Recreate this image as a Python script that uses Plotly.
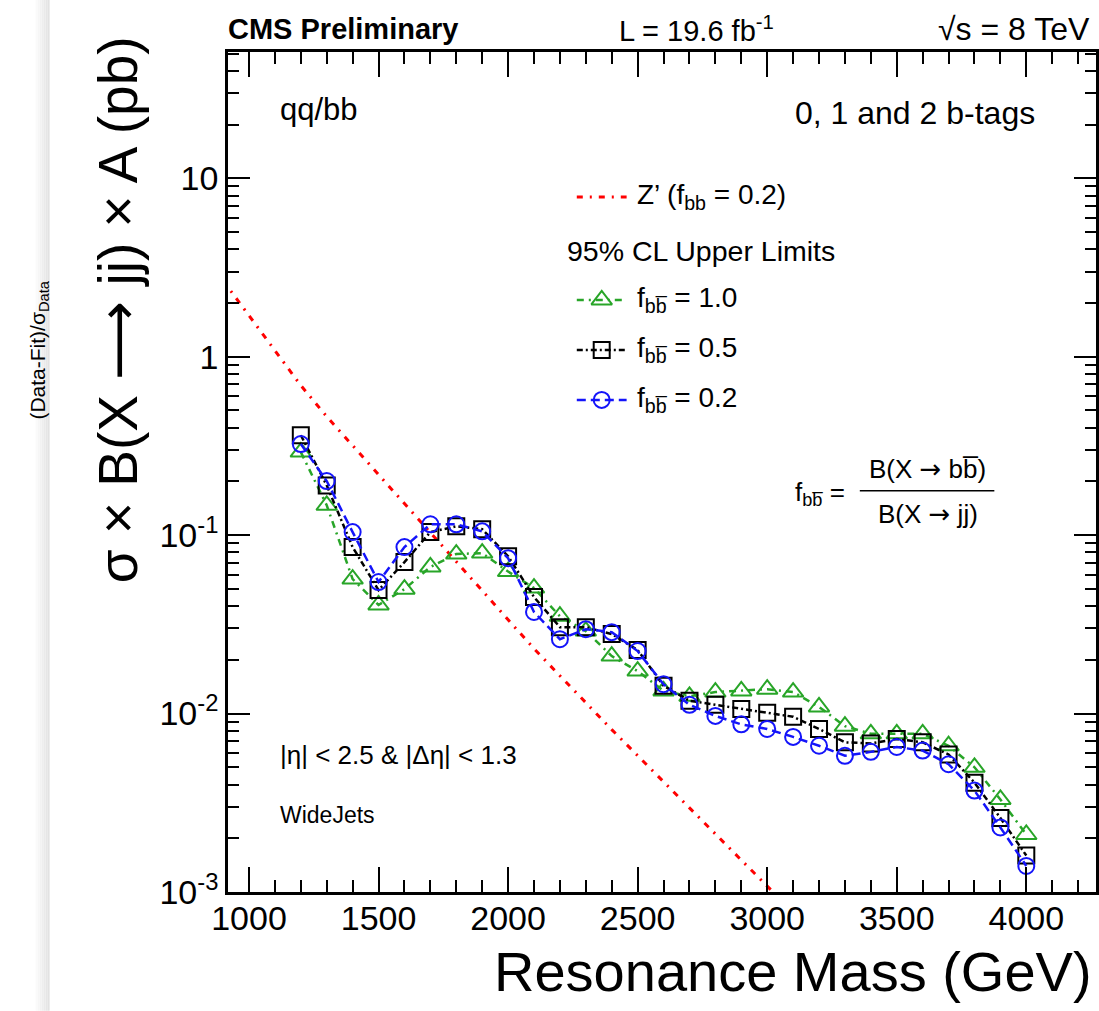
import plotly.graph_objects as go

# ---------------- data ----------------
mass = [1200, 1300, 1400, 1500, 1600, 1700, 1800, 1900, 2000, 2100, 2200, 2300, 2400, 2500,
        2600, 2700, 2800, 2900, 3000, 3100, 3200, 3300, 3400, 3500, 3600, 3700, 3800, 3900, 4000]

lim_fbb_10 = [0.292, 0.147, 0.0567, 0.0406, 0.0498, 0.0663, 0.0783, 0.0793, 0.0625, 0.0505,
              0.0351, 0.0290, 0.0210, 0.0173, 0.0134, 0.0125, 0.0132, 0.0134, 0.0137, 0.0132,
              0.0109, 0.0085, 0.0077, 0.0077, 0.0077, 0.0066, 0.0050, 0.0033, 0.0021]

lim_fbb_05 = [0.363, 0.190, 0.0857, 0.0492, 0.0706, 0.104, 0.112, 0.108, 0.0762, 0.0450,
              0.0305, 0.0305, 0.0279, 0.0227, 0.0143, 0.0118, 0.0112, 0.0106, 0.0101, 0.0096,
              0.0082, 0.0069, 0.0068, 0.0072, 0.0069, 0.0059, 0.0041, 0.0026, 0.0016]

lim_fbb_02 = [0.324, 0.201, 0.104, 0.0546, 0.0857, 0.115, 0.115, 0.105, 0.0743, 0.0371,
              0.0261, 0.0297, 0.0286, 0.0224, 0.0146, 0.0112, 0.0097, 0.0087, 0.0082, 0.0074,
              0.0066, 0.0058, 0.0061, 0.0065, 0.0062, 0.0052, 0.0037, 0.0023, 0.0014]

zp_mass = [900, 1000, 1100, 1200, 1300, 1400, 1500, 1600, 1700, 1800, 1900, 2000, 2100, 2200,
           2300, 2400, 2500, 2600, 2700, 2800, 2900, 3000, 3100]
zp_xsec = [2.67, 1.70, 1.08, 0.690, 0.462, 0.318, 0.218, 0.150, 0.103, 0.0708, 0.0486, 0.0334,
           0.0231, 0.0163, 0.0115, 0.00813, 0.00581, 0.00415, 0.00296, 0.00212, 0.00151,
           0.00108, 0.00077]

x_ticks = [1000, 1500, 2000, 2500, 3000, 3500, 4000]
y_ticks = [0.001, 0.01, 0.1, 1, 10]
y_ticktext = ["10<sup>-3</sup>", "10<sup>-2</sup>", "10<sup>-1</sup>", "1", "10"]

# ---------------- layout helpers ----------------
W, H = 1099, 1011
L, R, T, B = 228, 1099, 52, 892.3
FONT = "Liberation Sans, Arial, Helvetica, sans-serif"
ARROWF = "DejaVu Sans"
GREEN = "rgb(40,165,40)"
BLUE = "rgb(20,20,250)"
RED = "rgb(255,0,0)"


def px(x):
    return (x - L) / (R - L)


def py(y):
    return (B - y) / (B - T)


fig = go.Figure()

# Z' theory curve
fig.add_trace(go.Scatter(x=zp_mass, y=zp_xsec, mode="lines",
                         line=dict(color=RED, width=3, dash="6px,7px,2px,7px"),
                         showlegend=False))

series = [
    (lim_fbb_10, GREEN, "triangle-up-open", 18, "7px,5px,2px,5px"),
    (lim_fbb_05, "black", "square-open", 16, "6px,3px,2px,3px"),
    (lim_fbb_02, BLUE, "circle-open", 16, "9px,5px"),
]
for vals, col, sym, size, dash in series:
    fig.add_trace(go.Scatter(x=mass, y=vals, mode="lines+markers",
                             line=dict(color=col, width=2.5, dash=dash),
                             marker=dict(symbol=sym, size=size, color=col,
                                         line=dict(width=2, color=col)),
                             showlegend=False))

# legend glyphs on a pixel overlay
leg_x0, leg_x1, leg_xm = 578, 628, 603
fig.add_trace(go.Scatter(x=[leg_x0, leg_x1], y=[197, 197], mode="lines", xaxis="x2", yaxis="y2",
                         line=dict(color=RED, width=3, dash="6px,7px,2px,7px"), showlegend=False))
for (vals, col, sym, size, dash), ly in zip(series, [300, 350, 400]):
    fig.add_trace(go.Scatter(x=[leg_x0, leg_x1], y=[ly, ly], mode="lines", xaxis="x2", yaxis="y2",
                             line=dict(color=col, width=2.5, dash=dash), showlegend=False))
    fig.add_trace(go.Scatter(x=[leg_xm], y=[ly], mode="markers", xaxis="x2", yaxis="y2",
                             marker=dict(symbol=sym, size=size, color=col,
                                         line=dict(width=2, color=col)), showlegend=False))

bbbar = "bb\u0305"
arrow = f"<span style='font-family:{ARROWF}'>\u2192</span>"
longarrow = f"<span style='font-family:{ARROWF}'>\u27f6</span>"

ann = []


def text(x, y, s, size, xanchor="left", bold=False, angle=0, yanchor="middle", family=FONT):
    ann.append(dict(x=px(x), y=py(y), xref="paper", yref="paper", text=(f"<b>{s}</b>" if bold else s),
                    showarrow=False, xanchor=xanchor, yanchor=yanchor, textangle=angle,
                    font=dict(family=family, size=size, color="black")))


# header
text(226, 29, "CMS Preliminary", 29, bold=True)
text(618, 29, "L = 19.6 fb<sup>-1</sup>", 29)
text(1095, 29, "\u221As = 8 TeV", 32, xanchor="right")
# inner labels
text(278, 110, "qq/bb", 31)
text(1040, 113, "0, 1 and 2 b-tags", 32, xanchor="right")
text(278, 755, "|\u03b7| < 2.5 & |\u0394\u03b7| < 1.3", 26)
text(278, 815, "WideJets", 23)
# legend text
text(636, 197, "Z\u2019 (f<sub>bb</sub> = 0.2)", 28)
text(566, 251, "95% CL Upper Limits", 28.5)
text(636, 300, f"f<sub>{bbbar}</sub> = 1.0", 28)
text(636, 350, f"f<sub>{bbbar}</sub> = 0.5", 28)
text(636, 400, f"f<sub>{bbbar}</sub> = 0.2", 28)
# formula
text(795, 494, f"f<sub>{bbbar}</sub> =", 26)
text(930, 469, f"B(X {arrow} {bbbar})", 26, xanchor="center")
text(930, 514, f"B(X {arrow} jj)", 26, xanchor="center")
# axis titles
text(1097, 972, "Resonance Mass (GeV)", 56, xanchor="right")
text(118, 310, f"\u03c3 \u00d7 B(X {longarrow} jj) \u00d7 A (pb)", 55, xanchor="center", angle=-90)
text(38, 350, "(Data-Fit)/\u03c3<sub>Data</sub>", 21, xanchor="center", angle=-90)

shapes = [
    dict(type="line", xref="paper", yref="paper", x0=px(862), x1=px(997), y0=py(491), y1=py(491),
         line=dict(color="black", width=1.5)),
]
# left gray shadow band
for i, g in enumerate([250, 246, 242, 238, 234, 230, 226]):
    shapes.append(dict(type="rect", xref="paper", yref="paper", x0=px(35 + 2 * i), x1=px(37 + 2 * i),
                       y0=py(1011), y1=py(0), line=dict(width=0), fillcolor=f"rgb({g},{g},{g})",
                       layer="below"))

y_minor = [m * 10 ** e for e in range(-3, 2) for m in range(2, 10)]

fig.update_layout(
    width=W, height=H,
    margin=dict(l=L, r=W - R, t=T, b=H - B),
    paper_bgcolor="white", plot_bgcolor="white",
    showlegend=False,
    font=dict(family=FONT, color="black"),
    xaxis=dict(range=[919, 919 + (R - L) / 0.26], tickmode="array", tickvals=x_ticks,
               ticks="inside", ticklen=25, tickwidth=2, tickcolor="black",
               showline=True, linewidth=2.5, linecolor="black", mirror="ticks",
               showgrid=False, zeroline=False, tickfont=dict(size=34, family=FONT),
               ticklabelstandoff=-6,
               minor=dict(dtick=100, tick0=0, ticks="inside", ticklen=12, tickwidth=2,
                          tickcolor="black", showgrid=False)),
    yaxis=dict(type="log", range=[-3, -3 + (B - T) / 178.5], tickmode="array",
               tickvals=y_ticks, ticktext=y_ticktext,
               ticks="inside", ticklen=22, tickwidth=2, tickcolor="black",
               showline=True, linewidth=2.5, linecolor="black", mirror="ticks",
               showgrid=False, zeroline=False, tickfont=dict(size=34, family=FONT),
               minor=dict(tickmode="array", tickvals=y_minor, ticks="inside", ticklen=11,
                          tickwidth=2, tickcolor="black", showgrid=False)),
    xaxis2=dict(overlaying="x", range=[L, R], visible=False),
    yaxis2=dict(overlaying="y", range=[B, T], visible=False),
    annotations=ann,
    shapes=shapes,
)

fig.write_html("out.html")
